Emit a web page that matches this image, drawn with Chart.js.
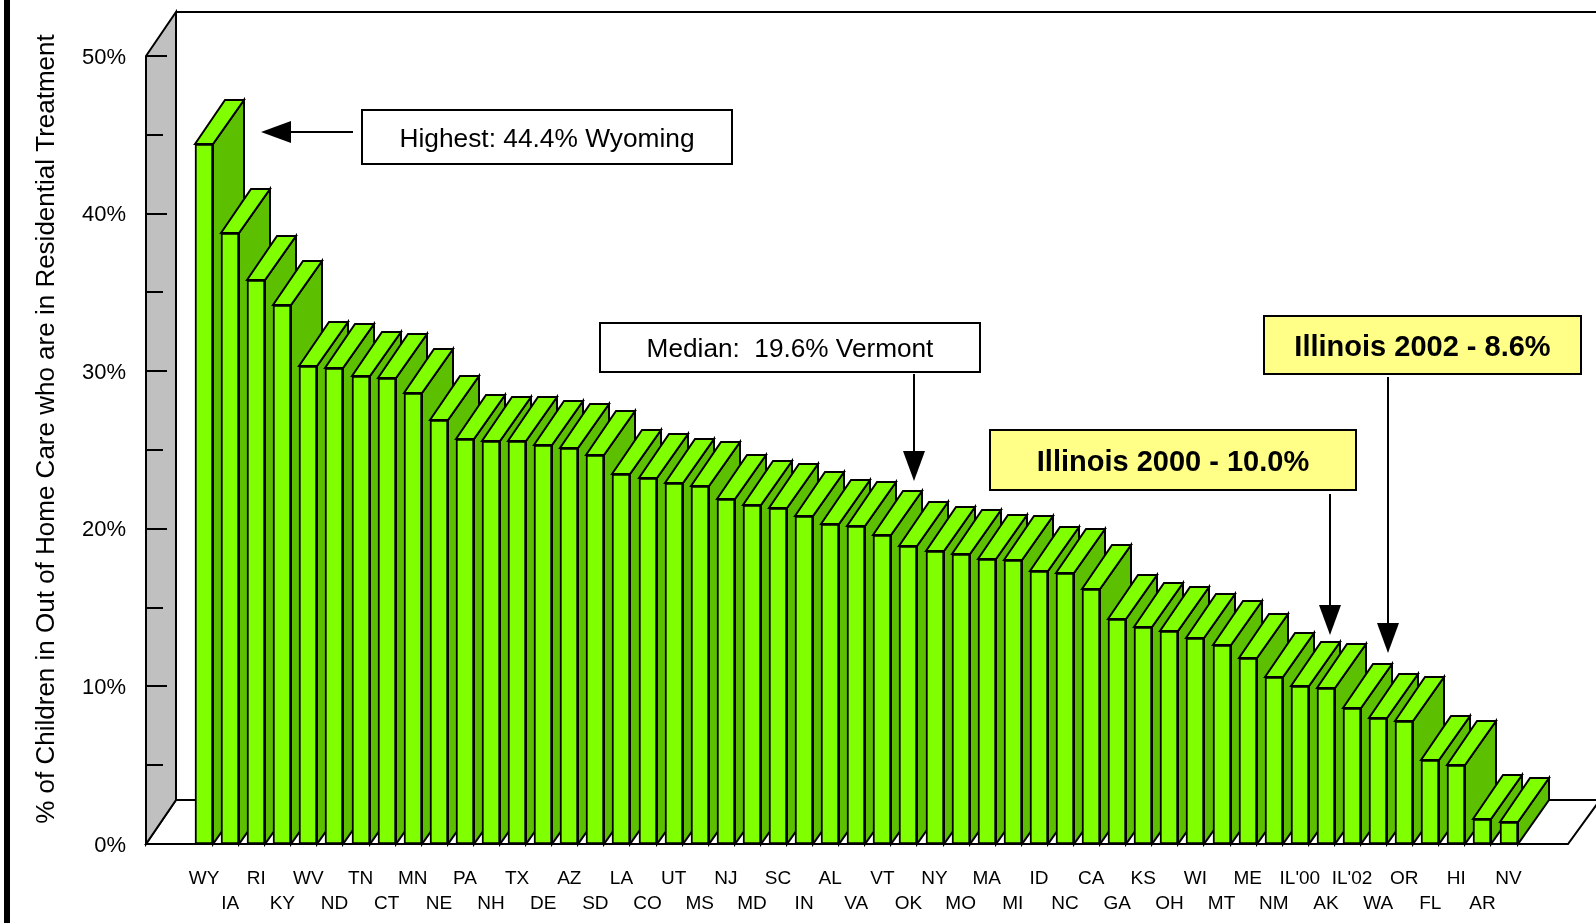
<!DOCTYPE html>
<html><head><meta charset="utf-8">
<style>html,body{margin:0;padding:0;background:#fff;overflow:hidden}canvas{display:block}</style>
<script src="https://cdn.jsdelivr.net/npm/chart.js@4/dist/chart.umd.js"></script>
</head><body>
<canvas id="c" width="1596" height="923"></canvas>
<script>
const categories = ["WY","IA","RI","KY","WV","ND","TN","CT","MN","NE","PA","NH","TX","DE","AZ","SD","LA","CO","UT","MS","NJ","MD","SC","IN","AL","VA","VT","OK","NY","MO","MA","MI","ID","NC","CA","GA","KS","OH","WI","MT","ME","NM","IL'00","AK","IL'02","WA","OR","FL","HI","AR","NV"];
const percentInResidential = [44.4,38.8,35.8,34.2,30.3,30.2,29.7,29.6,28.6,26.9,25.7,25.6,25.6,25.3,25.1,24.7,23.5,23.2,22.9,22.7,21.9,21.5,21.3,20.8,20.3,20.2,19.6,18.9,18.6,18.4,18.1,18.0,17.3,17.2,16.2,14.3,13.8,13.5,13.1,12.6,11.8,10.6,10.0,9.9,8.6,8.0,7.8,5.3,5.0,1.6,1.4];
const yAxisTitle = "% of Children in Out of Home Care who are in Residential Treatment";
const callouts = [
  {text:"Highest: 44.4% Wyoming", box:[362,110,732,164], fill:"#ffffff", font:"26.3px 'Liberation Sans'", from:[353,132], to:[261,132]},
  {text:"Median:  19.6% Vermont", box:[600,323,980,372], fill:"#ffffff", font:"26.2px 'Liberation Sans'", from:[914,374], to:[914,481]},
  {text:"Illinois 2000 - 10.0%", box:[990,430,1356,490], fill:"#ffff88", font:"bold 29px 'Liberation Sans'", from:[1330,494], to:[1330,635]},
  {text:"Illinois 2002 - 8.6%", box:[1264,316,1581,374], fill:"#ffff88", font:"bold 29px 'Liberation Sans'", from:[1388,377], to:[1388,653]}
];
const DEPTH_X = 30, DEPTH_Y = 44, SIDE_FILL = "#5cbf00", FACE_FILL = "#80ff00";

function poly(ctx, pts, fill){
  ctx.beginPath();
  pts.forEach((p,i)=> i ? ctx.lineTo(p[0],p[1]) : ctx.moveTo(p[0],p[1]));
  ctx.closePath();
  if(fill){ctx.fillStyle=fill;ctx.fill();}
  ctx.stroke();
}

// Every bar gets its top and side faces right before its front, so the next bar covers them.
const drawFront = Chart.BarElement.prototype.draw;
Chart.BarElement.prototype.draw = function(ctx, area){
  const {x:px,y:py,base,width} = this.getProps(['x','y','base','width']);
  const x = Math.round(px), y = Math.round(py);
  const l = x-width/2, r = x+width/2;
  ctx.save();
  ctx.strokeStyle="#000"; ctx.lineWidth=2; ctx.lineJoin="miter";
  poly(ctx,[[r,y],[r+DEPTH_X+1,y-DEPTH_Y],[r+DEPTH_X+1,base-DEPTH_Y],[r,base]],SIDE_FILL);
  poly(ctx,[[l,y],[l+DEPTH_X,y-DEPTH_Y],[r+DEPTH_X+1,y-DEPTH_Y],[r,y]],FACE_FILL);
  ctx.restore();
  this.x = x; this.y = y;
  drawFront.call(this,ctx,area);
  this.x = px; this.y = py;
};

const chamber = {
  id:'chamber',
  afterLayout(chart){
    const y = chart.scales.y, proto = Object.getPrototypeOf(y);
    y.drawTitle = function(){
      const c=this.ctx; c.save(); c.translate(0,-21); proto.drawTitle.call(this); c.restore();
    };
  },
  beforeDatasetsDraw(chart){
    const {ctx,scales:{y}} = chart, W = chart.width;
    const bottom=y.getPixelForValue(0), top=y.getPixelForValue(50);
    const xFront=146, xBack=xFront+DEPTH_X, floorRight=1568;
    ctx.save();
    ctx.fillStyle="#000"; ctx.fillRect(4,0,6,chart.height);
    ctx.strokeStyle="#000"; ctx.lineWidth=2; ctx.lineCap="butt"; ctx.lineJoin="miter";
    poly(ctx,[[xFront,bottom],[xBack,bottom-DEPTH_Y],[W+4,bottom-DEPTH_Y],[floorRight,bottom]],"#fff");
    poly(ctx,[[xFront,top],[xBack,top-DEPTH_Y],[xBack,bottom-DEPTH_Y],[xFront,bottom]],"#c0c0c0");
    ctx.beginPath();ctx.moveTo(xBack,top-DEPTH_Y);ctx.lineTo(W,top-DEPTH_Y);ctx.stroke();
    y.ticks.forEach(t=>{
      if(t.value===0) return;
      const p=Math.round(y.getPixelForValue(t.value));
      ctx.beginPath();ctx.moveTo(xFront,p);ctx.lineTo(xFront+(t.value%10===0?21:17),p);ctx.stroke();
    });
    ctx.restore();
  },
  afterDatasetsDraw(chart){
    const ctx=chart.ctx;
    ctx.save();
    callouts.forEach(c=>{
      const [x0,y0,x1,y1]=c.box;
      ctx.fillStyle=c.fill;ctx.strokeStyle="#000";ctx.lineWidth=2;
      ctx.fillRect(x0,y0,x1-x0,y1-y0);ctx.strokeRect(x0,y0,x1-x0,y1-y0);
      ctx.fillStyle="#000";ctx.font=c.font;ctx.textAlign="center";ctx.textBaseline="middle";
      ctx.fillText(c.text,(x0+x1)/2,(y0+y1)/2+2.5);
      const [fx,fy]=c.from,[tx,ty]=c.to;
      const a=Math.atan2(ty-fy,tx-fx),hl=30,hw=11;
      const bx=tx-hl*Math.cos(a),by=ty-hl*Math.sin(a);
      ctx.beginPath();ctx.moveTo(fx,fy);ctx.lineTo(bx,by);ctx.stroke();
      ctx.beginPath();ctx.moveTo(tx,ty);
      ctx.lineTo(bx-hw*Math.sin(a),by+hw*Math.cos(a));
      ctx.lineTo(bx+hw*Math.sin(a),by-hw*Math.cos(a));
      ctx.closePath();ctx.fill();
    });
    ctx.restore();
  }
};

new Chart(document.getElementById('c'),{
  type:'bar',
  data:{labels:categories,datasets:[{
    label:yAxisTitle,
    data:percentInResidential,
    backgroundColor:FACE_FILL,
    borderColor:"#000",
    borderWidth:2,
    borderSkipped:false,
    barThickness:18,
    clip:false
  }]},
  options:{
    responsive:false,
    animation:false,
    events:[],
    layout:{padding:{top:56,right:74.4,left:0,bottom:0}},
    plugins:{legend:{display:false},tooltip:{enabled:false},title:{display:false}},
    scales:{
      x:{
        grid:{display:false,drawTicks:false},
        border:{display:false},
        afterFit(s){s.height=79;},
        ticks:{
          autoSkip:false,maxRotation:0,minRotation:0,padding:21.7,color:"#000",
          font:{family:"'Liberation Sans'",size:19,lineHeight:1.35},
          callback(v,i){const t=this.getLabelForValue(v);return i%2?['',t]:[t,''];}
        }
      },
      y:{
        min:0,max:50,
        grid:{display:false,drawTicks:true,tickLength:65},
        border:{display:false},
        afterFit(s){s.width=191;},
        title:{display:true,text:yAxisTitle,color:"#000",font:{family:"'Liberation Sans'",size:26,lineHeight:1.2},padding:{top:31,bottom:0}},
        ticks:{
          stepSize:5,autoSkip:false,padding:0,labelOffset:1.5,color:"#000",
          font:{family:"'Liberation Sans'",size:22},
          callback(v){return v%10===0?v+'%':'';}
        }
      }
    }
  },
  plugins:[chamber]
});
</script>
</body></html>
